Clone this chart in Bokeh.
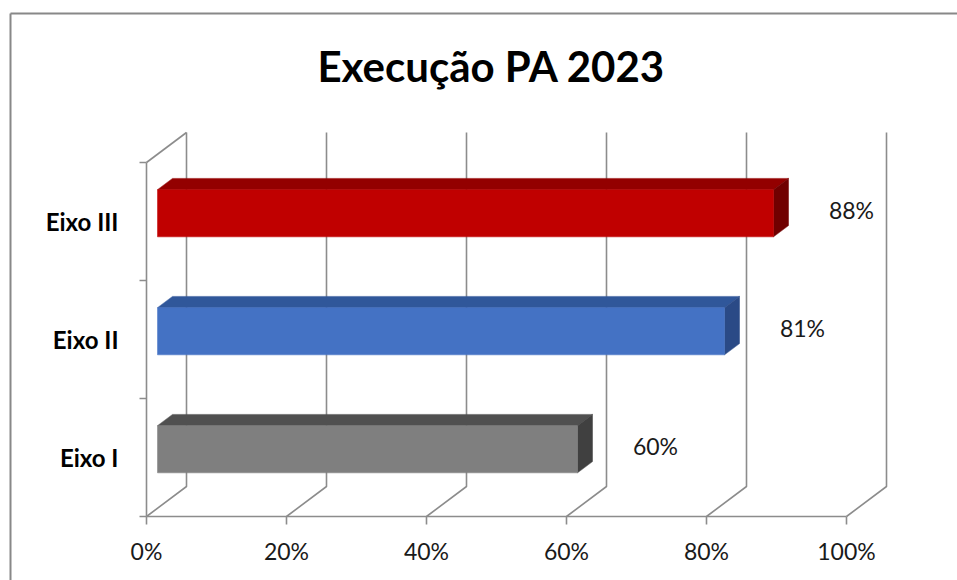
from bokeh.plotting import figure
from bokeh.models import Range1d, LinearAxis, FixedTicker, ColumnDataSource
from bokeh.core.properties import value
from bokeh.embed import file_html
from bokeh.resources import INLINE

# ---------------- data ----------------
categories = ["Eixo I", "Eixo II", "Eixo III"]
values = [60, 81, 88]
value_labels = ["60%", "81%", "88%"]
x_ticks = [0, 20, 40, 60, 80, 100]
x_tick_labels = ["0%", "20%", "40%", "60%", "80%", "100%"]
title_text = "Execução PA 2023"

front_colors = ["#7f7f7f", "#4472c4", "#c00000"]
top_colors = ["#505050", "#30579a", "#930000"]
side_colors = ["#404040", "#2a4a86", "#700000"]

# ---------------- layout constants ----------------
W, H = 957, 580
X0_PX, PX_PER_PCT = 146, 7.0      # pixel of 0% and pixels per percent
Y0_PX, PX_PER_CAT = 516, 118.0    # pixel of floor and pixels per category
DEPTH_X = 40 / PX_PER_PCT         # 3D depth in data units
DEPTH_Y = 30 / PX_PER_CAT
BAR_D0, BAR_D1 = 0.275, 0.65      # bar depth fractions
BAR_H = 0.40                      # bar thickness (category units)
N = len(categories)
GRID_COLOR = "#8c8c8c"
FONT = "Lato"


def px2x(px):
    return (px - X0_PX) / PX_PER_PCT


def px2y(py):
    return (Y0_PX - py) / PX_PER_CAT


p = figure(width=W, height=H, output_backend="svg", toolbar_location=None,
           x_range=Range1d(px2x(0), px2x(W)), y_range=Range1d(px2y(H), px2y(0)),
           x_axis_type=None, y_axis_type=None, min_border=0)
p.outline_line_color = None
p.background_fill_color = "white"
p.border_fill_color = "white"

# chart border (left and top)
p.multi_line(xs=[[px2x(10), px2x(10)], [px2x(10), px2x(W + 5)]],
             ys=[[px2y(H + 5), px2y(13)], [px2y(13), px2y(13)]],
             line_color="#888888", line_width=2)

# 3D walls / gridlines
gxs, gys = [], []
for t in x_ticks:
    gxs.append([t, t + DEPTH_X, t + DEPTH_X])
    gys.append([0, DEPTH_Y, N + DEPTH_Y])
gxs.append([0, DEPTH_X])
gys.append([N, N + DEPTH_Y])
p.multi_line(xs=gxs, ys=gys, line_color=GRID_COLOR, line_width=1.6)

# bars
fl, fr, fb, ft = [], [], [], []
top_xs, top_ys, side_xs, side_ys = [], [], [], []
lab_x, lab_y = [], []
for i, v in enumerate(values):
    yc = i + 0.5
    x0 = DEPTH_X * BAR_D0
    x1 = DEPTH_X * BAR_D1
    yb0 = yc - BAR_H / 2 + DEPTH_Y * BAR_D0
    yt0 = yc + BAR_H / 2 + DEPTH_Y * BAR_D0
    yb1 = yc - BAR_H / 2 + DEPTH_Y * BAR_D1
    yt1 = yc + BAR_H / 2 + DEPTH_Y * BAR_D1
    fl.append(x0); fr.append(v + x0); fb.append(yb0); ft.append(yt0)
    top_xs.append([x0, v + x0, v + x1, x1])
    top_ys.append([yt0, yt0, yt1, yt1])
    side_xs.append([v + x0, v + x0, v + x1, v + x1])
    side_ys.append([yb0, yt0, yt1, yb1])
    lab_x.append(v)
    lab_y.append(yc + DEPTH_Y * BAR_D0)

p.patches(xs=top_xs, ys=top_ys, fill_color=top_colors, line_color=top_colors, line_width=0.5)
p.patches(xs=side_xs, ys=side_ys, fill_color=side_colors, line_color=side_colors, line_width=0.5)
p.quad(left=fl, right=fr, bottom=fb, top=ft, fill_color=front_colors,
       line_color=front_colors, line_width=0.5)

# value labels
src = ColumnDataSource(dict(x=lab_x, y=lab_y, t=value_labels))
p.text(x="x", y="y", text="t", source=src, x_offset=89, y_offset=-3,
       text_font=value(FONT), text_font_size="23px", text_color="#1a1a1a",
       text_align="center", text_baseline="middle")

# title
p.text(x=[px2x(491)], y=[px2y(65)], text=[title_text], text_font=value(FONT),
       text_font_size="42px", text_font_style="bold", text_color="#000000",
       text_align="center", text_baseline="middle")

# axes
xaxis = LinearAxis(ticker=FixedTicker(ticks=x_ticks), fixed_location=0, bounds=(0, 100))
xaxis.major_label_overrides = {t: l for t, l in zip(x_ticks, x_tick_labels)}
xaxis.axis_line_color = GRID_COLOR
xaxis.axis_line_width = 1.6
xaxis.major_tick_line_color = GRID_COLOR
xaxis.major_tick_line_width = 1.6
xaxis.major_tick_out = 8
xaxis.major_tick_in = 0
xaxis.minor_tick_line_color = None
xaxis.major_label_standoff = 12
xaxis.major_label_text_font = FONT
xaxis.major_label_text_font_size = "23px"
xaxis.major_label_text_color = "#1a1a1a"
p.add_layout(xaxis, "below")

y_ticks = [i + 0.5 for i in range(N)]
yaxis = LinearAxis(ticker=FixedTicker(ticks=y_ticks, minor_ticks=list(range(N + 1))),
                   fixed_location=0, bounds=(0, N))
yaxis.major_label_overrides = {t: c for t, c in zip(y_ticks, categories)}
yaxis.axis_line_color = GRID_COLOR
yaxis.axis_line_width = 1.6
yaxis.major_tick_line_color = None
yaxis.major_tick_out = 0
yaxis.major_tick_in = 0
yaxis.minor_tick_line_color = GRID_COLOR
yaxis.minor_tick_line_width = 1.6
yaxis.minor_tick_out = 7
yaxis.minor_tick_in = 0
yaxis.major_label_standoff = 21
yaxis.major_label_text_font = FONT
yaxis.major_label_text_font_style = "bold"
yaxis.major_label_text_font_size = "24px"
yaxis.major_label_text_color = "#000000"
p.add_layout(yaxis, "left")

html = file_html(p, INLINE)
html = html.replace("<head>", "<head><style>html,body{margin:0;padding:0;overflow:hidden;}</style>", 1)
open("out.html", "w").write(html)
